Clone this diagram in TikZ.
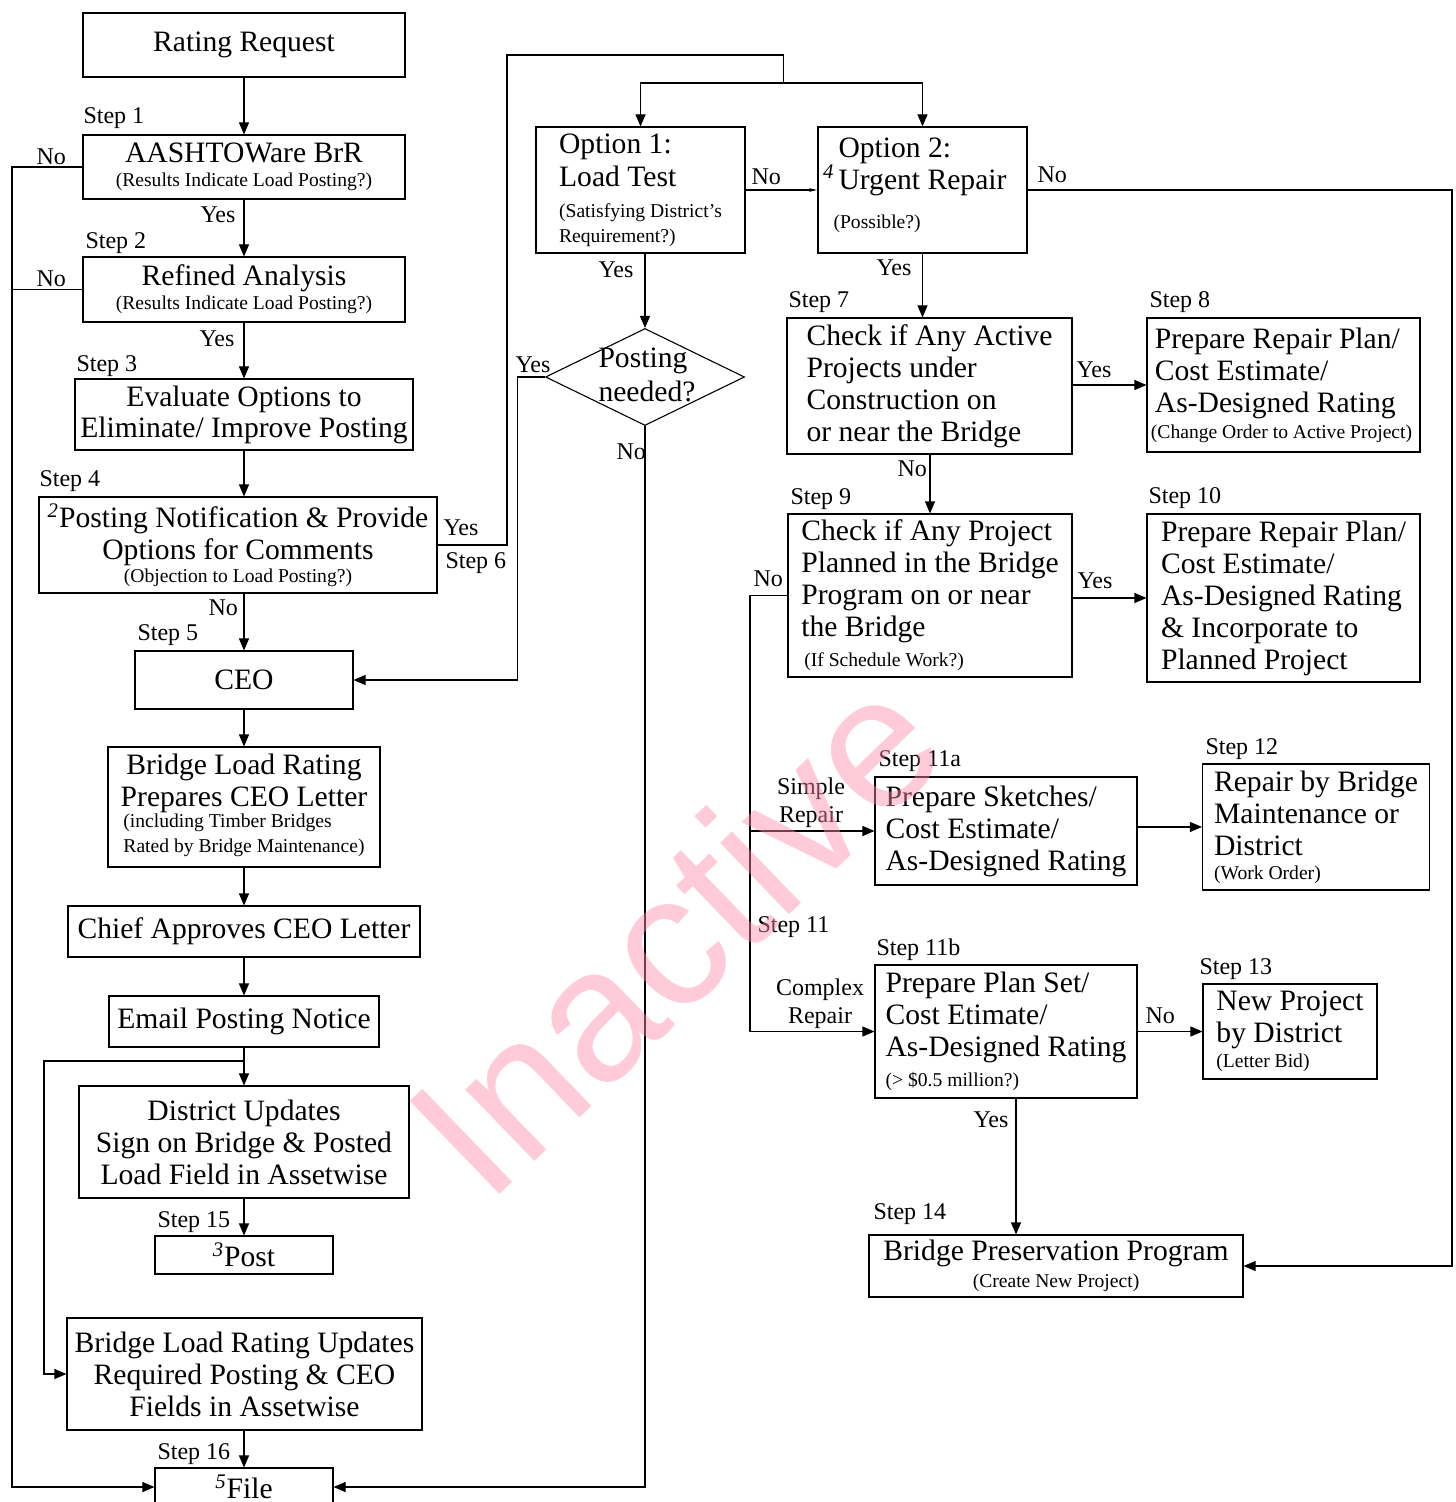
\documentclass[tikz,border=0pt]{standalone}
\usepackage{fontspec}
\setmainfont{Liberation Serif}
\newfontfamily\wmfont{Liberation Sans}
\usetikzlibrary{shapes.geometric,arrows.meta}

\newcommand\bigtxt{\fontsize{14.8}{16}\selectfont}
\newcommand\smalltxt{\fontsize{9.8}{12.5}\selectfont}
\newcommand\lbltxt{\fontsize{12}{14}\selectfont}
\newcommand\supnum[1]{\textsuperscript{\textit{#1}}}
\definecolor{wmpink}{RGB}{255,140,170}

\tikzset{
  box/.style={draw, inner sep=0pt, font=\bigtxt, align=center},
  lbox/.style={box, align=left},
  lbl/.style={font=\lbltxt, anchor=base west, inner sep=0pt},
  arr/.style={-{Triangle[length=6pt,width=5pt]}},
  tinyarr/.style={-{Triangle[length=4pt,width=1.6pt]}},
  wmark/.style={rotate=44, font=\wmfont\fontsize{94}{94}\selectfont,
    text=wmpink, text opacity=0.45, inner sep=0pt}
}

\begin{document}
\begin{tikzpicture}[x=0.5pt, y=-0.5pt, line width=0.55pt]
  \path [fill=white] (0,0) rectangle (1455,1502);
  \useasboundingbox (0,0) rectangle (1455,1502);

  % left column
  \node [box, minimum width=161pt, minimum height=32pt] (rr) at (244,45) {Rating Request};
  \node [box, minimum width=161pt, minimum height=32pt] (brr) at (244,167)
    {AASHTOWare BrR\\[-4pt]{\smalltxt (Results Indicate Load Posting?)}};
  \node [box, minimum width=161pt, minimum height=32.5pt] (rfa) at (244,289.5)
    {Refined Analysis\\[-4pt]{\smalltxt (Results Indicate Load Posting?)}};
  \node [box, minimum width=169pt, minimum height=35.5pt] (evo) at (244,414.5)
    {Evaluate Options to\\[-0.5pt]Eliminate/ Improve Posting};
  \node [box, minimum width=199pt, minimum height=48pt] (ntf) at (238,545)
    {\supnum{2}Posting Notification \& Provide\\Options for Comments\\[-4.5pt]{\smalltxt (Objection to Load Posting?)}};
  \node [box, minimum width=109pt, minimum height=29pt] (ceo) at (244,680) {CEO};
  \node [box, minimum width=136pt, minimum height=60pt] (ceoltr) at (244,807)
    {Bridge Load Rating\\Prepares CEO Letter\\[-5.5pt]{\smalltxt\begin{tabular}[t]{@{}l@{}}(including Timber Bridges\\Rated by Bridge Maintenance)\end{tabular}}};
  \node [box, minimum width=176pt, minimum height=25.5pt] (chief) at (244,931.5) {Chief Approves CEO Letter};
  \node [box, minimum width=135pt, minimum height=25.5pt] (email) at (244,1021.5) {Email Posting Notice};
  \node [box, minimum width=165pt, minimum height=56pt] (dist) at (244,1142)
    {District Updates\\Sign on Bridge \& Posted\\Load Field in Assetwise};
  \node [box, minimum width=89pt, minimum height=19pt] (post) at (244,1255) {\supnum{3}Post};
  \node [box, minimum width=177.5pt, minimum height=56pt] (blru) at (244.5,1374)
    {Bridge Load Rating Updates\\Required Posting \& CEO\\Fields in Assetwise};
  \node [box, minimum width=89pt, minimum height=19pt] (file) at (244,1487) {\supnum{5}File};

  % options
  \node [lbox, minimum width=104.5pt, minimum height=63pt] (opt1) at (640.5,190)
    {Option 1:\\[0.5pt]Load Test\\[-0.5pt]{\smalltxt (Satisfying District's}\\[-3.5pt]{\smalltxt Requirement?)}};
  \node [lbox, minimum width=104.5pt, minimum height=63pt, text depth=7pt] (opt2) at (922.5,190)
    {Option 2:\\\llap{\supnum{4}\hspace{2pt}}Urgent Repair\\[3.5pt]{\smalltxt\hspace{-2.5pt}(Possible?)}};
  \node [draw, diamond, minimum width=99.5pt, minimum height=48.5pt, inner sep=0pt] (pneed) at (645,377) {};
  \node [font=\bigtxt, align=left, inner sep=0pt] (pneedtxt) at (647,375) {Posting\\[1pt]needed?};

  % right column
  \node [lbox, minimum width=142.5pt, minimum height=68pt] (s7) at (929.5,386)
    {Check if Any Active\\Projects under\\Construction on\\or near the Bridge};
  \node [lbox, minimum width=136.5pt, minimum height=67pt] (s8) at (1283.5,385)
    {Prepare Repair Plan/\\Cost Estimate/\\As-Designed Rating\\[-3pt]{\smalltxt\hspace{-2pt}(Change Order to Active Project)}};
  \node [lbox, minimum width=142pt, minimum height=81.5pt] (s9) at (930,595.5)
    {Check if Any Project\\Planned in the Bridge\\Program on or near\\the Bridge\\[-1pt]{\smalltxt\hspace{1.5pt}(If Schedule Work?)}};
  \node [lbox, minimum width=136.5pt, minimum height=84pt] (s10) at (1283.5,598)
    {Prepare Repair Plan/\\Cost Estimate/\\As-Designed Rating\\\& Incorporate to\\Planned Project};
  \node [lbox, minimum width=131pt, minimum height=54pt] (s11a) at (1006,831)
    {Prepare Sketches/\\Cost Estimate/\\As-Designed Rating};
  \node [lbox, minimum width=113.5pt, minimum height=63pt] (s12) at (1316,827)
    {Repair by Bridge\\Maintenance or\\District\\[-4pt]{\smalltxt (Work Order)}};
  \node [lbox, minimum width=131pt, minimum height=66.5pt] (s11b) at (1006,1031.5)
    {Prepare Plan Set/\\Cost Etimate/\\As-Designed Rating\\[-1pt]{\smalltxt (> \$0.5 million?)}};
  \node [lbox, minimum width=87pt, minimum height=47.5pt] (s13) at (1290,1031.5)
    {New Project\\by District\\[-3.5pt]{\smalltxt (Letter Bid)}};
  \node [box, minimum width=187pt, minimum height=31pt] (bpp) at (1056,1266)
    {Bridge Preservation Program\\[-2.5pt]{\smalltxt (Create New Project)}};

  % step labels
  \node [lbl] (st1) at (83,124) {Step 1};
  \node [lbl] (st2) at (85,249) {Step 2};
  \node [lbl] (st3) at (76,372) {Step 3};
  \node [lbl] (st4) at (39,486) {Step 4};
  \node [lbl] (st5) at (137,640) {Step 5};
  \node [lbl] (st6) at (445,568) {Step 6};
  \node [lbl] (st7) at (788,308) {Step 7};
  \node [lbl] (st8) at (1149,308) {Step 8};
  \node [lbl] (st9) at (790,504) {Step 9};
  \node [lbl] (st10) at (1148,503) {Step 10};
  \node [lbl] (st11a) at (878,766) {Step 11a};
  \node [lbl] (st12) at (1205,754) {Step 12};
  \node [lbl] (st11) at (757,932) {Step 11};
  \node [lbl] (st11b) at (876,955) {Step 11b};
  \node [lbl] (st13) at (1199,974) {Step 13};
  \node [lbl] (st14) at (873,1219) {Step 14};
  \node [lbl] (st15) at (157,1227) {Step 15};
  \node [lbl] (st16) at (157,1459) {Step 16};

  % yes / no labels
  \node [lbl] (no1) at (36,165) {No};
  \node [lbl] (no2) at (36,287) {No};
  \node [lbl] (yes1) at (200,223) {Yes};
  \node [lbl] (yes2) at (199,347) {Yes};
  \node [lbl] (yes3) at (443,535) {Yes};
  \node [lbl] (no3) at (208,615) {No};
  \node [lbl] (yes4) at (598,278) {Yes};
  \node [lbl] (no4) at (751,185) {No};
  \node [lbl] (no5) at (1037,183) {No};
  \node [lbl] (yes5) at (876,276) {Yes};
  \node [lbl] (yes6) at (515,373) {Yes};
  \node [lbl] (no6) at (616,459) {No};
  \node [lbl] (yes7) at (1076,378) {Yes};
  \node [lbl] (no7) at (897,476) {No};
  \node [lbl] (yes8) at (1077,588) {Yes};
  \node [lbl] (no8) at (753,586) {No};
  \node [lbl] (no9) at (1145,1023) {No};
  \node [lbl] (yes9) at (973,1127) {Yes};
  \node [font=\lbltxt, align=center, inner sep=0pt] (simple) at (811,803) {Simple\\Repair};
  \node [font=\lbltxt, align=center, inner sep=0pt] (complex) at (820,1004) {Complex\\Repair};

  % main column connectors
  \draw [arr] (rr) -- (brr);
  \draw [arr] (brr) -- (rfa);
  \draw [arr] (rfa) -- (evo);
  \draw [arr] (evo.south) -- (evo.south |- ntf.north);
  \draw [arr] (ceo.north |- ntf.south) -- (ceo.north);
  \draw [arr] (ceo) -- (ceoltr);
  \draw [arr] (ceoltr) -- (chief);
  \draw [arr] (chief) -- (email);
  \draw [arr] (email) -- (dist);
  \draw [arr] (dist) -- (post);
  \draw [arr] (blru.south -| file.north) -- (file.north);

  \coordinate (lftedge) at (12,167);
  \draw [arr] (brr.west) -- (lftedge) |- (file.west);
  \draw (rfa.west) -- (rfa.west -| lftedge);
  \coordinate (fork2) at (44,1061);
  \draw [arr] (email.south |- fork2) -- (fork2) |- (blru.west);

  % objection loop to the options
  \coordinate (loopup) at (507,55);
  \coordinate (optfork) at (783.5,83);
  \draw (ntf.east) -| (loopup) -| (optfork);
  \draw [arr] (optfork) -| (opt1.north);
  \draw [arr] (optfork) -| (opt2.north);

  \draw [arr] (pneed.north |- opt1.south) -- (pneed.north);
  \draw [tinyarr] (opt1.east) -- (opt2.west);
  \coordinate (ybend) at (517.5,377);
  \draw [arr] (pneed.west) -- (ybend) |- (ceo.east);
  \draw [arr] (pneed.south) |- (file.east);
  \coordinate (rgtedge) at (1452,190);
  \draw [arr] (opt2.east) -- (rgtedge) |- (bpp.east);

  % repair branch
  \draw [arr] (opt2.south) -- (opt2.south |- s7.north);
  \draw [arr] (s7.east |- s8.west) -- (s8.west);
  \draw [arr] (s7.south -| s9.north) -- (s9.north);
  \draw [arr] (s9.east |- s10.west) -- (s10.west);
  \coordinate (bus) at (750,596);
  \draw [arr] (s9.west) -- (s9.west -| bus) |- (s11b.west);
  \draw [arr] (s9.west -| bus) |- (s11a.west);
  \draw [arr] (s11a.east |- s12.west) -- (s12.west);
  \draw [arr] (s11b) -- (s13);
  \coordinate (ydrop) at ([xshift=5pt]s11b.south);
  \draw [arr] (ydrop) -- (ydrop |- bpp.north);

  \node [wmark] (wm) at (674,933) {Inactive};
\end{tikzpicture}
\end{document}
